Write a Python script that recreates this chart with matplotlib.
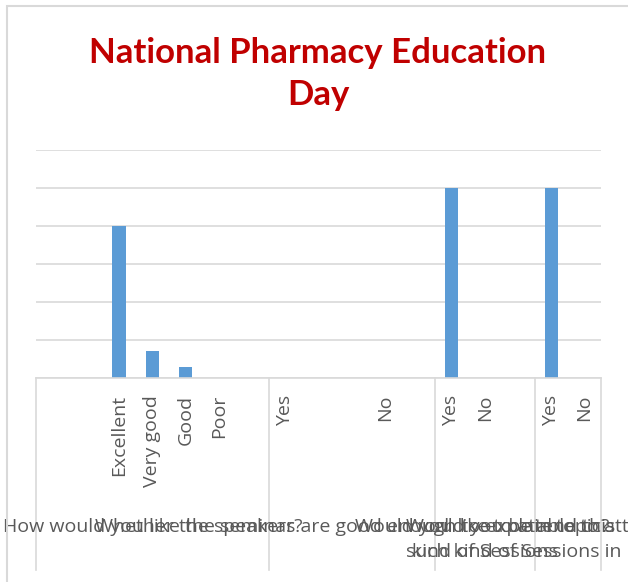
import numpy as np
import matplotlib
matplotlib.use("Agg")
import matplotlib.pyplot as plt
from matplotlib.transforms import blended_transform_factory
from matplotlib.patches import Rectangle

# data
groups = [
    "How would you like the seminar?",
    "Whether the speakers are good enough to explain topic?",
    "Would you like to attend this\nkind of Sessions",
    "Would you be able to attend Future\nsuch kind of Sessions in Future too?",
]
categories = [
    ["", "", "Excellent", "Very good", "Good", "Poor", ""],
    ["Yes", "", "", "No", ""],
    ["Yes", "No", ""],
    ["Yes", "No"],
]
values = [
    [0, 0, 40, 7, 3, 0, 0],
    [0, 0, 0, 0, 0],
    [50, 0, 0],
    [50, 0],
]

W, H = 628, 582
fig = plt.figure(figsize=(W / 100, H / 100), dpi=100)
ax = fig.add_axes([36 / W, (H - 378) / H, 565 / W, 228 / H])

labels = [c for g in categories for c in g]
vals = [v for g in values for v in g]
x = np.arange(len(labels))

ax.bar(x, vals, width=0.4, color="#5b9bd5", zorder=3)
ax.set_xlim(-0.5, len(labels) - 0.5)
ax.set_ylim(0, 60)
ax.set_yticks(np.arange(0, 61, 10))
ax.yaxis.grid(True, color="#d9d9d9", linewidth=1.2)
ax.set_axisbelow(True)
ax.tick_params(axis="y", length=0, labelleft=False)
for side in ["top", "right", "left"]:
    ax.spines[side].set_visible(False)
ax.spines["bottom"].set_color("#d9d9d9")
ax.spines["bottom"].set_linewidth(1.2)
ax.spines["bottom"].set_zorder(4)

ax.set_xticks(x)
ax.set_xticklabels(labels, rotation=90, fontsize=14, color="#595959",
                   family="Open Sans", va="top")
ax.tick_params(axis="x", length=0, pad=12)

# group dividers and group labels
tr = blended_transform_factory(ax.transData, fig.transFigure)
sizes = [len(g) for g in categories]
edges = np.concatenate([[0], np.cumsum(sizes)]) - 0.5
for e in edges:
    ax.plot([e, e], [(H - 378) / H, (H - 570) / H], color="#d9d9d9",
            linewidth=1.2, transform=tr, clip_on=False)
for i, g in enumerate(groups):
    cx = (edges[i] + edges[i + 1]) / 2
    ax.text(cx, (H - 518) / H, g, transform=tr, ha="center", va="top",
            fontsize=14, color="#595959", family="Open Sans",
            multialignment="center", linespacing=1.5)

fig.suptitle("National Pharmacy Education\nDay", x=318 / W, y=(H - 37) / H,
             va="top", fontsize=25, fontweight="bold", color="#c00000",
             family="Lato", linespacing=1.4)

fig.add_artist(Rectangle((7 / W, -0.1), 2, (H - 6) / H + 0.1,
                         transform=fig.transFigure, fill=False,
                         edgecolor="#d9d9d9", linewidth=1.5))

fig.savefig("out.png", dpi=100)
